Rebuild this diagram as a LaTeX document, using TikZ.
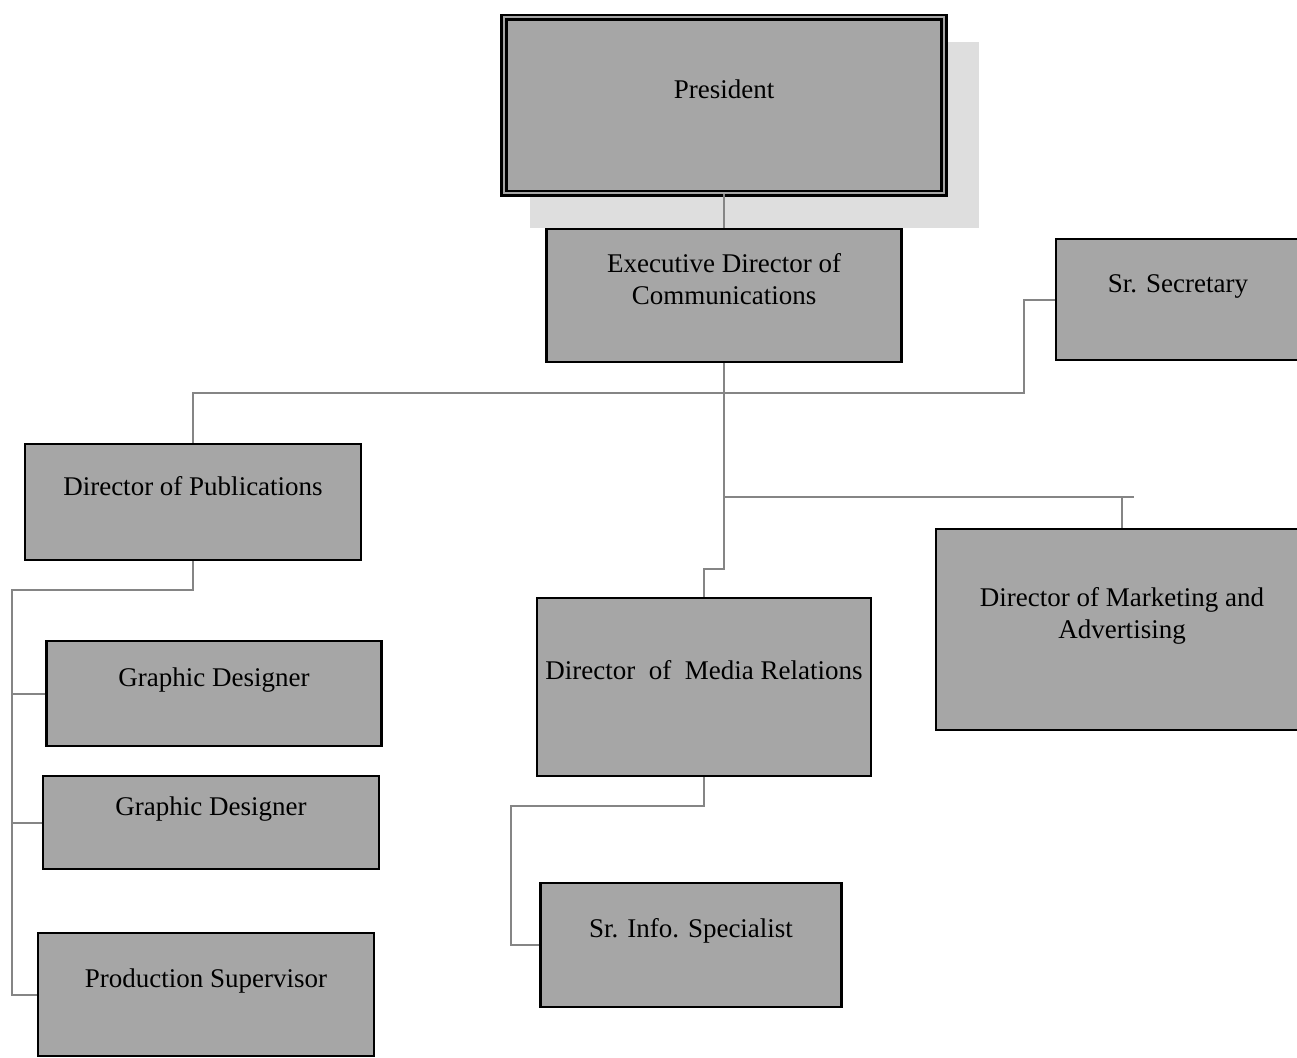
\documentclass[tikz,border=0pt]{standalone}
\usepackage{fontspec}
\setmainfont{Liberation Serif}
\definecolor{boxgray}{HTML}{A6A6A6}
\definecolor{shadowgray}{HTML}{DEDEDE}
\definecolor{linegray}{HTML}{858585}

\begin{document}
\begin{tikzpicture}[x=1pt, y=-1pt,
    box/.style={draw, line width=2.2pt, fill=boxgray, anchor=north, inner sep=0pt,
      align=center, font=\fontsize{27}{32}\selectfont},
    conn/.style={draw=linegray, line width=2pt}]
        \useasboundingbox (0,0) rectangle (1297,1057);
        % shadow behind the president box
        \fill[shadowgray] (530,42) rectangle (979,228);
        \node[box, double=boxgray, double distance=2.4pt, line width=2.4pt,
          minimum width=440, text height=81, text depth=95] (pres) at (724,16) {President};
        \node[box, minimum width=355, text height=75, text depth=58] (exec) at (724,228) {Executive Director of\\Communications};
        % boxes on the right run past the edge of the page
        \node[box, minimum width=290, text height=53, text depth=68] (sec) at (1201,238) {Sr. Secretary\hspace*{46pt}};
        \node[box, minimum width=336, text height=51, text depth=65] (pub) at (193,443) {Director of Publications};
        \node[box, minimum width=400, text height=109, text depth=92] (mkt) at (1136,528) {Director of Marketing and\hspace*{28pt}\\Advertising\hspace*{28pt}};
        \node[box, minimum width=334, text height=81, text depth=97] (med) at (704,597) {Director\ \ of\ \ Media Relations};
        \node[box, minimum width=335, text height=45, text depth=60] (gd1) at (214,640) {Graphic Designer};
        \node[box, minimum width=336, text height=39, text depth=54] (gd2) at (211,775) {Graphic Designer};
        \node[box, minimum width=336, text height=54, text depth=69] (ps) at (206,932) {Production Supervisor};
        \node[box, minimum width=301, text height=54, text depth=70] (info) at (691,882) {Sr. Info. Specialist};
        \coordinate (bar) at (724,393);
        \coordinate (fork) at (724,497);
        \coordinate (mktdrop) at (1122,497);
        \coordinate (pubrail) at (12,590);
        \coordinate (infojog) at (511,806);
        % connectors
        \draw[conn] (pres.south) -- (exec.north);
        \draw[conn] (exec.south) -- (bar) -| (pub.north);
        \draw[conn] (sec.west) -- ++(-31,0) |- (bar);
        \draw[conn] (exec.south) -- ++(0,206) -| (med.north);
        \draw[conn] (fork) -- ++(410,0);
        \draw[conn] (mktdrop) -- (mktdrop |- mkt.north);
        \draw[conn] (pub.south) |- (pubrail) |- (ps.west);
        \draw[conn] (gd1.west) -| (pubrail);
        \draw[conn] (gd2.west) -| (pubrail);
        \draw[conn] (med.south) |- (infojog) |- (info.west);
\end{tikzpicture}
\end{document}
